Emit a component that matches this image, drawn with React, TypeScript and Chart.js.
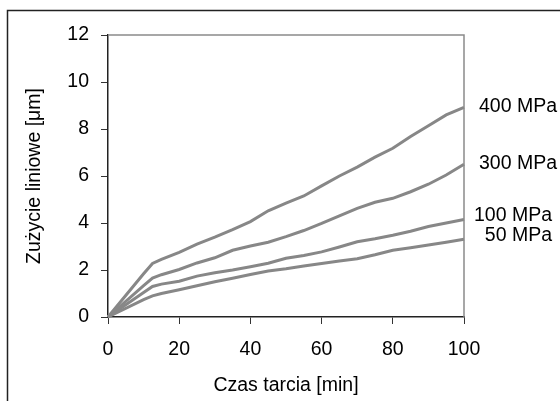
import React, { useEffect, useRef } from "react";
import { Chart, registerables } from "chart.js";

Chart.register(...registerables);

const time = [0, 10, 12.5, 15, 20, 25, 30, 35, 40, 45, 50, 55, 60, 65, 70, 75, 80, 85, 90, 95, 100];
const wear400 = [0, 1.84, 2.28, 2.45, 2.75, 3.1, 3.4, 3.72, 4.06, 4.52, 4.85, 5.15, 5.58, 6.0, 6.38, 6.8, 7.18, 7.68, 8.14, 8.6, 8.92];
const wear300 = [0, 1.34, 1.66, 1.8, 2.02, 2.3, 2.52, 2.84, 3.02, 3.18, 3.42, 3.68, 3.98, 4.3, 4.62, 4.88, 5.05, 5.33, 5.65, 6.04, 6.5];
const wear100 = [0, 1.04, 1.3, 1.4, 1.52, 1.74, 1.88, 2.0, 2.14, 2.29, 2.5, 2.62, 2.77, 2.98, 3.2, 3.33, 3.48, 3.65, 3.85, 4.0, 4.15];
const wear50 = [0, 0.74, 0.9, 1.0, 1.16, 1.33, 1.5, 1.65, 1.81, 1.96, 2.05, 2.17, 2.28, 2.38, 2.48, 2.65, 2.84, 2.95, 3.06, 3.18, 3.31];
const seriesLabels = ["400 MPa", "300 MPa", "100 MPa", "50 MPa"];
const seriesValues = [wear400, wear300, wear100, wear50];
const xTitle = "Czas tarcia [min]";
const yTitle = "Zużycie liniowe [μm]";

const FONT = "'Liberation Sans', Arial, sans-serif";
const FS = 19.5;

export default function App() {
  const ref = useRef<HTMLCanvasElement | null>(null);
  useEffect(() => {
    if (!ref.current) return;
    const labelPlugin = {
      id: "endLabels",
      afterDraw(chart: any) {
        const ctx = chart.ctx;
        const xs = chart.scales.x;
        const ys = chart.scales.y;
        const area = chart.chartArea;
        ctx.save();
        // plot frame top/right
        ctx.strokeStyle = "#8a8a8a";
        ctx.lineWidth = 1.5;
        ctx.beginPath();
        ctx.moveTo(area.left, area.top);
        ctx.lineTo(area.right, area.top);
        ctx.lineTo(area.right, area.bottom);
        ctx.stroke();
        // outer border
        ctx.strokeStyle = "#222";
        ctx.lineWidth = 1.5;
        ctx.beginPath();
        ctx.moveTo(7.5, chart.height + 5);
        ctx.lineTo(7.5, 10.5);
        ctx.lineTo(chart.width + 5, 10.5);
        ctx.stroke();
        // end labels
        ctx.fillStyle = "#000";
        ctx.font = `${FS}px ${FONT}`;
        ctx.textBaseline = "middle";
        seriesLabels.forEach((lab, i) => {
          const vals = seriesValues[i];
          const y = ys.getPixelForValue(vals[vals.length - 1]);
          const xr = xs.getPixelForValue(time[time.length - 1]);
          if (i < 2) {
            ctx.textAlign = "left";
            ctx.fillText(lab, xr + 15, y - 1);
          } else {
            ctx.textAlign = "right";
            ctx.fillText(lab, xr + 88, y - 4);
          }
        });
        ctx.restore();
      },
    };
    const chart = new Chart(ref.current, {
      type: "line",
      data: {
        datasets: seriesValues.map((vals, i) => ({
          label: seriesLabels[i],
          data: vals.map((v, j) => ({ x: time[j], y: v })),
          borderColor: "#878787",
          borderWidth: 3,
          pointRadius: 0,
          tension: 0,
          fill: false,
          clip: false as any,
        })),
      },
      options: {
        responsive: false,
        animation: false,
        layout: { padding: { left: 0, right: 96, top: 35, bottom: 0 } },
        plugins: { legend: { display: false }, tooltip: { enabled: false } },
        scales: {
          x: {
            type: "linear",
            min: 0,
            max: 100,
            ticks: { stepSize: 20, color: "#000", font: { family: FONT, size: FS }, padding: 14, maxRotation: 0 },
            grid: { drawOnChartArea: false, drawTicks: true, tickLength: 7, color: "#333", lineWidth: 1 },
            border: { color: "#222", width: 1.5 },
            title: { display: true, text: xTitle, color: "#000", font: { family: FONT, size: FS }, padding: { top: 0, bottom: 4 } },
            afterFit: (s: any) => { s.height = 84; },
          },
          y: {
            min: 0,
            max: 12,
            ticks: { stepSize: 2, color: "#000", font: { family: FONT, size: FS }, padding: 12 },
            grid: { drawOnChartArea: false, drawTicks: true, tickLength: 7, color: "#333", lineWidth: 1 },
            border: { color: "#222", width: 1.5 },
            title: { display: true, text: yTitle, color: "#000", font: { family: FONT, size: FS }, padding: { top: 23, bottom: 0 } },
            afterFit: (s: any) => { s.width = 108; },
          },
        },
      },
      plugins: [labelPlugin],
    });
    return () => chart.destroy();
  }, []);
  return (
    <div style={{ position: "absolute", left: 0, top: 0, width: 560, height: 401, background: "#fff" }}>
      <canvas ref={ref} width={560} height={401} style={{ width: 560, height: 401, display: "block" }} />
    </div>
  );
}
